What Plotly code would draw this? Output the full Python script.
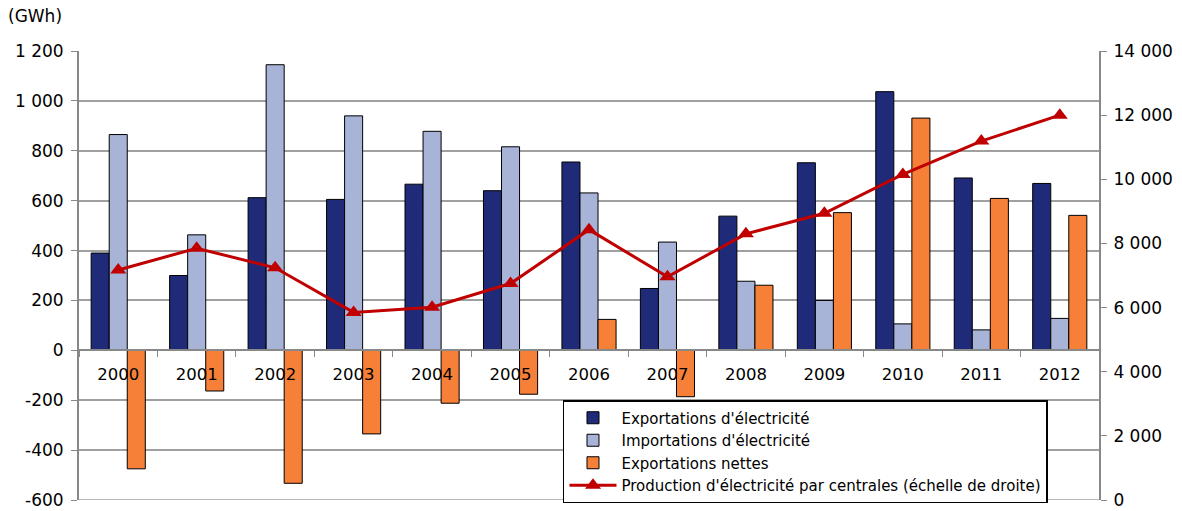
import plotly.graph_objects as go

years = ["2000", "2001", "2002", "2003", "2004", "2005", "2006", "2007", "2008", "2009", "2010", "2011", "2012"]
exports = [390, 300, 612, 605, 666, 640, 755, 248, 538, 752, 1037, 691, 669]
imports = [865, 463, 1145, 940, 878, 816, 631, 434, 277, 200, 106, 82, 128]
net_exports = [-475, -163, -533, -335, -212, -176, 124, -186, 261, 552, 931, 609, 541]
production = [7170, 7850, 7240, 5850, 6010, 6750, 8430, 6960, 8300, 8940, 10150, 11190, 12000]

left_tick_vals = [-600, -400, -200, 0, 200, 400, 600, 800, 1000, 1200]
left_tick_text = ["-600", "-400", "-200", "0", "200", "400", "600", "800", "1 000", "1 200"]
right_tick_vals = [0, 2000, 4000, 6000, 8000, 10000, 12000, 14000]
right_tick_text = ["0", "2 000", "4 000", "6 000", "8 000", "10 000", "12 000", "14 000"]

names = ["Exportations d'électricité", "Importations d'électricité", "Exportations nettes",
         "Production d'électricité par centrales (échelle de droite)"]

FONT = "DejaVu Sans"
fig = go.Figure()
for vals, name, col in [(exports, names[0], "#1F2A78"), (imports, names[1], "#A8B3D8"),
                        (net_exports, names[2], "#F68038")]:
    fig.add_trace(go.Bar(x=years, y=vals, name=name,
                         marker=dict(color=col, line=dict(color="#000000", width=1))))

fig.add_trace(go.Scatter(x=years, y=production, name=names[3], yaxis="y2",
                         mode="lines+markers",
                         line=dict(color="#C00000", width=3),
                         marker=dict(symbol="triangle-up", size=14, color="#C00000")))

fig.update_layout(
    width=1182, height=511,
    margin=dict(l=79, r=83, t=51, b=11, autoexpand=False),
    paper_bgcolor="white", plot_bgcolor="white",
    font=dict(family=FONT, size=16, color="#000000"),
    barmode="group", bargap=0.31, bargroupgap=0,
    xaxis=dict(anchor="free", position=1/3, range=[-0.5, len(years) - 0.5],
               showline=True, linecolor="#888888", linewidth=2,
               ticks="outside", tickson="boundaries", ticklen=6, tickcolor="#888888",
               ticklabelstandoff=9, showgrid=False, automargin=False,
               tickfont=dict(size=16.5, family=FONT)),
    yaxis=dict(range=[-600, 1200], tickvals=left_tick_vals, ticktext=left_tick_text,
               showline=True, linecolor="#888888", linewidth=2, ticks="outside", ticklen=6,
               tickcolor="#888888", showgrid=True, gridcolor="#A0A0A0", gridwidth=1.5,
               zeroline=False, automargin=False, ticklabeloverflow="allow",
               ticklabelstandoff=4, tickfont=dict(size=17, family=FONT)),
    yaxis2=dict(range=[0, 14000], tickvals=right_tick_vals, ticktext=right_tick_text,
                overlaying="y", side="right", showline=True, linecolor="#888888", linewidth=2,
                ticks="outside", ticklen=6, tickcolor="#888888", showgrid=False, zeroline=False,
                automargin=False, ticklabeloverflow="allow", ticklabelstandoff=3,
                tickfont=dict(size=17, family=FONT)),
    legend=dict(x=0.4745, y=0.2227, xanchor="left", yanchor="top",
                bordercolor="#000000", borderwidth=1.5, bgcolor="white",
                font=dict(size=15, family=FONT), tracegroupgap=0, itemwidth=47),
    annotations=[dict(text="(GWh)", xref="paper", yref="paper", x=-0.0715, y=1.077,
                      xanchor="left", yanchor="middle", showarrow=False,
                      font=dict(size=17, family=FONT))],
    shapes=[dict(type="line", xref="paper", yref="y", x0=0, x1=1, y0=-600, y1=-600,
                 line=dict(color="#A0A0A0", width=1.5), layer="below")],
)

fig.write_html("out.html", config={"displayModeBar": False},
               post_script="document.body.style.margin='0px';document.body.style.overflow='hidden';")
